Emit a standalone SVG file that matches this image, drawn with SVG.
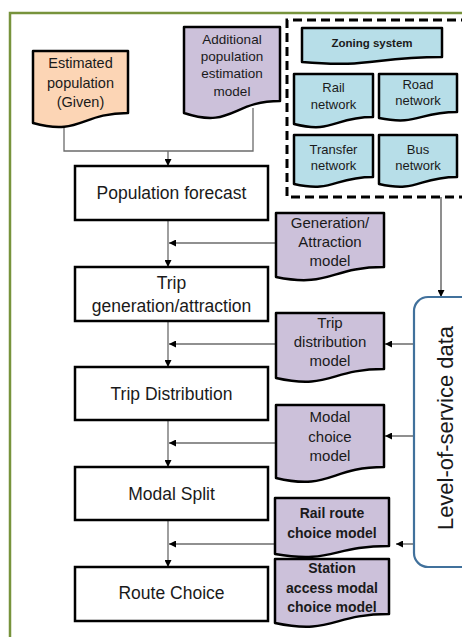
<svg xmlns="http://www.w3.org/2000/svg" width="462" height="637" viewBox="0 0 462 637">
<defs>
<style>
.box{fill:#fff;stroke:#000;stroke-width:2.5}
.doc{stroke:#000;stroke-width:2.5;stroke-linejoin:round}
.org{fill:#FCD5B5}
.pur{fill:#CCC1DA}
.blu{fill:#B7DEE8}
.t{font-family:"Liberation Sans",Arial,sans-serif;fill:#1a1a1a;text-anchor:middle}
.m{font-size:17.5px}
.s{font-size:15px}
.b{font-weight:bold}
.c{fill:none;stroke:#6b6b6b;stroke-width:1.3}
.cd{fill:none;stroke:#333;stroke-width:1.1}
</style>
<marker id="ah" viewBox="0 0 10 10" refX="10" refY="5" markerWidth="7" markerHeight="7" markerUnits="userSpaceOnUse" orient="auto">
<path d="M0,0 L10,5 L0,10 Z" fill="#000"/>
</marker>
</defs>
<rect width="462" height="637" fill="#fff"/>
<path d="M10,645 V13 H470" fill="none" stroke="#77933C" stroke-width="2.5"/>
<g id="data-frame">
<path d="M470,20 H287 V197 H470" fill="none" stroke="#000" stroke-width="3" stroke-dasharray="9,5"/>
</g>
<g id="connectors">
<path class="c" d="M64,127 V151 H253 V108"/>
<path class="c" d="M168,151 V166" marker-end="url(#ah)"/>
<path class="c" d="M168,220 V267" marker-end="url(#ah)"/>
<path class="c" d="M168,321 V367" marker-end="url(#ah)"/>
<path class="c" d="M168,420 V467" marker-end="url(#ah)"/>
<path class="c" d="M168,520 V567" marker-end="url(#ah)"/>
<path class="c" d="M276,243 H169" marker-end="url(#ah)"/>
<path class="c" d="M276,344 H169" marker-end="url(#ah)"/>
<path class="c" d="M276,443 H169" marker-end="url(#ah)"/>
<path class="c" d="M275,544 H169" marker-end="url(#ah)"/>
<path class="cd" d="M441,197 V297" marker-end="url(#ah)"/>
<path class="cd" d="M414,344 H385" marker-end="url(#ah)"/>
<path class="cd" d="M414,436 H385" marker-end="url(#ah)"/>
<path class="cd" d="M414,544 H396" marker-end="url(#ah)"/>
</g>
<g id="estimated-population">
<path class="doc org" d="M33,51 H128 V113 C80.5,113 80.5,136 33,123 Z"/>
<text class="t" style="font-size:14.5px" x="80.5" y="68">Estimated</text>
<text class="t" style="font-size:14.5px" x="80.5" y="88">population</text>
<text class="t" style="font-size:14.5px" x="80.5" y="107">(Given)</text>
</g>
<g id="additional-population-model">
<path class="doc pur" d="M184,27 H280 V101 C232,101 232,129 184,113 Z"/>
<text class="t" style="font-size:13.5px" x="232" y="44">Additional</text>
<text class="t" style="font-size:13.5px" x="232" y="61">population</text>
<text class="t" style="font-size:13.5px" x="232" y="78">estimation</text>
<text class="t" style="font-size:13.5px" x="232" y="96">model</text>
</g>
<g id="zoning-system">
<path class="doc blu" d="M302,28 H442 V57 C372,57 372,68 302,62 Z"/>
<text class="t b" style="font-size:11.5px" x="372" y="47">Zoning system</text>
</g>
<g id="rail-network">
<path class="doc blu" d="M294,74 H373 V117 C333.5,117 333.5,134 294,124 Z"/>
<text class="t" style="font-size:13px" x="333.5" y="92">Rail</text>
<text class="t" style="font-size:13px" x="333.5" y="109">network</text>
</g>
<g id="road-network">
<path class="doc blu" d="M379,74 H457 V112 C418,112 418,126 379,118 Z"/>
<text class="t" style="font-size:13px" x="418" y="89">Road</text>
<text class="t" style="font-size:13px" x="418" y="105">network</text>
</g>
<g id="transfer-network">
<path class="doc blu" d="M294,135 H373 V177 C333.5,177 333.5,193 294,184 Z"/>
<text class="t" style="font-size:13px" x="333.5" y="154">Transfer</text>
<text class="t" style="font-size:13px" x="333.5" y="170">network</text>
</g>
<g id="bus-network">
<path class="doc blu" d="M379,135 H457 V177 C418,177 418,193 379,184 Z"/>
<text class="t" style="font-size:13px" x="418" y="154">Bus</text>
<text class="t" style="font-size:13px" x="418" y="170">network</text>
</g>
<g id="population-forecast">
<rect class="box" x="75" y="166" width="193" height="54"/>
<text class="t m" x="171.5" y="199">Population forecast</text>
</g>
<g id="trip-generation">
<rect class="box" x="75" y="267" width="193" height="54"/>
<text class="t m" x="171.5" y="289">Trip</text>
<text class="t m" x="171.5" y="312">generation/attraction</text>
</g>
<g id="trip-distribution">
<rect class="box" x="75" y="367" width="193" height="53"/>
<text class="t m" x="171.5" y="400">Trip Distribution</text>
</g>
<g id="modal-split">
<rect class="box" x="75" y="467" width="193" height="53"/>
<text class="t m" x="171.5" y="500">Modal Split</text>
</g>
<g id="route-choice">
<rect class="box" x="75" y="567" width="193" height="54"/>
<text class="t m" x="171.5" y="599">Route Choice</text>
</g>
<g id="generation-attraction-model">
<path class="doc pur" d="M276,213 H384 V267 C330,267 330,288 276,277 Z"/>
<text class="t s" x="330" y="228">Generation/</text>
<text class="t s" x="330" y="247">Attraction</text>
<text class="t s" x="330" y="266">model</text>
</g>
<g id="trip-distribution-model">
<path class="doc pur" d="M276,313 H384 V369 C330,369 330,390 276,378 Z"/>
<text class="t s" x="330" y="328">Trip</text>
<text class="t s" x="330" y="347">distribution</text>
<text class="t s" x="330" y="366">model</text>
</g>
<g id="modal-choice-model">
<path class="doc pur" d="M276,405 H384 V467 C330,467 330,491 276,478 Z"/>
<text class="t s" x="330" y="422">Modal</text>
<text class="t s" x="330" y="442">choice</text>
<text class="t s" x="330" y="461">model</text>
</g>
<g id="rail-route-choice-model">
<path class="doc pur" d="M275,498 H389 V546 C332,546 332,564 275,554 Z"/>
<text class="t b" style="font-size:14px" x="332" y="518">Rail route</text>
<text class="t b" style="font-size:14px" x="332" y="538">choice model</text>
</g>
<g id="station-access-model">
<path class="doc pur" d="M275,559 H389 V614 C332,614 332,635 275,623 Z"/>
<text class="t b" style="font-size:14px" x="332" y="573">Station</text>
<text class="t b" style="font-size:14px" x="332" y="593">access modal</text>
<text class="t b" style="font-size:14px" x="332" y="612">choice model</text>
</g>
<g id="level-of-service">
<rect x="414" y="297" width="80" height="270" rx="14" fill="#fff" stroke="#41719C" stroke-width="2.2"/>
<text class="t" style="font-size:22px" transform="translate(453,428) rotate(-90)" x="0" y="0">Level-of-service data</text>
</g>
</svg>
